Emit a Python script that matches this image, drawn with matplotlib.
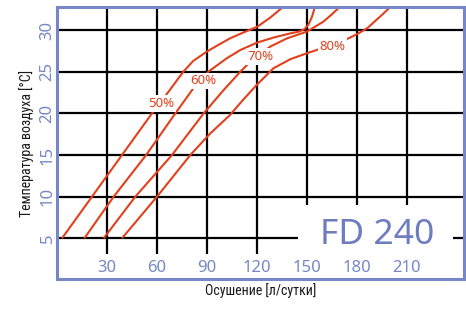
import matplotlib
matplotlib.use('Agg')
import matplotlib.pyplot as plt
from matplotlib import font_manager
from matplotlib.patches import Rectangle

# ---------------- data ----------------
x_ticks = [30, 60, 90, 120, 150, 180, 210]
y_ticks = [5, 10, 15, 20, 25, 30]

rh_labels = ['50%', '60%', '70%', '80%']

dehum_50 = [3, 21, 39, 57, 65.8, 75.8, 81.8, 89.8, 95.8, 103.8, 111.8, 120.2, 128, 135.8]
temp_50 = [5, 10, 15, 20, 22.3, 25.0, 26.3, 27.4, 28.1, 29.0, 29.7, 30.4, 31.5, 32.8]

dehum_60 = [16.4, 34, 53.5, 71, 81.8, 90.8, 101.8, 110, 120.2, 130, 140, 145, 148.5, 151, 153, 154.8]
temp_60 = [5, 10, 15, 20, 23.0, 25.0, 26.6, 27.6, 28.5, 29.1, 29.6, 29.8, 30.1, 30.7, 31.6, 32.8]

dehum_70 = [28, 47, 69, 88, 100, 110, 115, 127.8, 138, 149.8, 159.8, 165, 169.8]
temp_70 = [5, 10, 15, 20, 22.8, 25.0, 26.0, 28.0, 29.0, 29.8, 31.0, 31.9, 32.8]

dehum_80 = [39, 60, 80, 92, 103.8, 112, 119.8, 129.8, 140, 149.8, 155.8, 173.8, 180, 186, 193.8, 200.8]
temp_80 = [5, 10, 15, 17.6, 19.8, 21.7, 23.4, 25.4, 26.5, 27.2, 27.6, 28.9, 29.5, 30.2, 31.6, 32.9]

curves = [(dehum_50, temp_50), (dehum_60, temp_60), (dehum_70, temp_70), (dehum_80, temp_80)]

# layout (positions of the in-plot labels)
label_pos = [(62.8, 21.2), (87.8, 23.9), (122.3, 26.8), (165.3, 28.05)]

# ---------------- style ----------------
names = {f.name for f in font_manager.fontManager.ttflist}
narrow = next((n for n in ['Roboto Condensed', 'Liberation Sans Narrow',
                           'Open Sans Condensed', 'DejaVu Sans'] if n in names), 'DejaVu Sans')
plt.rcParams['font.family'] = ['Noto Sans', 'DejaVu Sans']

blue = '#7787C6'
red = '#E2401C'

fig = plt.figure(figsize=(4.66, 3.09), dpi=100)
ax = fig.add_axes([57 / 466, (309 - 279.3) / 309, 406.5 / 466, 272.6 / 309])
xmin, xmax = 0, 243.9
ymin, ymax = 0.08, 32.8
ax.set_xlim(xmin, xmax)
ax.set_ylim(ymin, ymax)

# grid
ax.vlines(x_ticks, 3.1, ymax, color='black', lw=1.6, zorder=1)
ax.hlines(y_ticks, xmin, xmax, color='black', lw=1.6, zorder=1)

# white box behind model name
ax.add_patch(Rectangle((144.6, 2.5), 93.0, 6.44, facecolor='white',
                       edgecolor='none', zorder=2))

# curves
for (dx, ty) in curves:
    ax.plot(dx, ty, color=red, lw=1.5, zorder=3, solid_capstyle='butt',
            solid_joinstyle='round')

for lab, (lx, ly) in zip(rh_labels, label_pos):
    ax.text(lx, ly, lab, ha='center', va='center', color=red, fontsize=9.5,
            bbox=dict(facecolor='white', edgecolor='none', pad=1.2), zorder=4)

ax.text(192.0, 4.28, 'FD 240', ha='center', va='baseline', color='#6E7CC0',
        fontsize=25.5, zorder=5)

# ticks
ax.set_xticks(x_ticks)
ax.set_xticklabels([str(v) for v in x_ticks])
ax.set_yticks(y_ticks)
ax.set_yticklabels([str(v) for v in y_ticks])
ax.tick_params(axis='x', length=0, pad=-13.7, labelcolor=blue, labelsize=12)
ax.tick_params(axis='y', length=0, pad=1, labelcolor=blue, labelsize=12,
               labelrotation=90)
for lbl in ax.get_yticklabels():
    lbl.set_va('center')

for s in ax.spines.values():
    s.set_color(blue)
    s.set_linewidth(2.2)
    s.set_zorder(6)

ax.set_xlabel('Осушение [л/сутки]', fontsize=10, family=narrow, color='#1a1a1a')
ax.set_ylabel('Температура воздуха [°C]', fontsize=10, family=narrow, color='#1a1a1a')
ax.xaxis.set_label_coords(0.5, -0.0147)
ax.xaxis.label.set_va('top')
ax.yaxis.set_label_coords(-0.0566, 0.5)

fig.savefig('out.png', dpi=100)
